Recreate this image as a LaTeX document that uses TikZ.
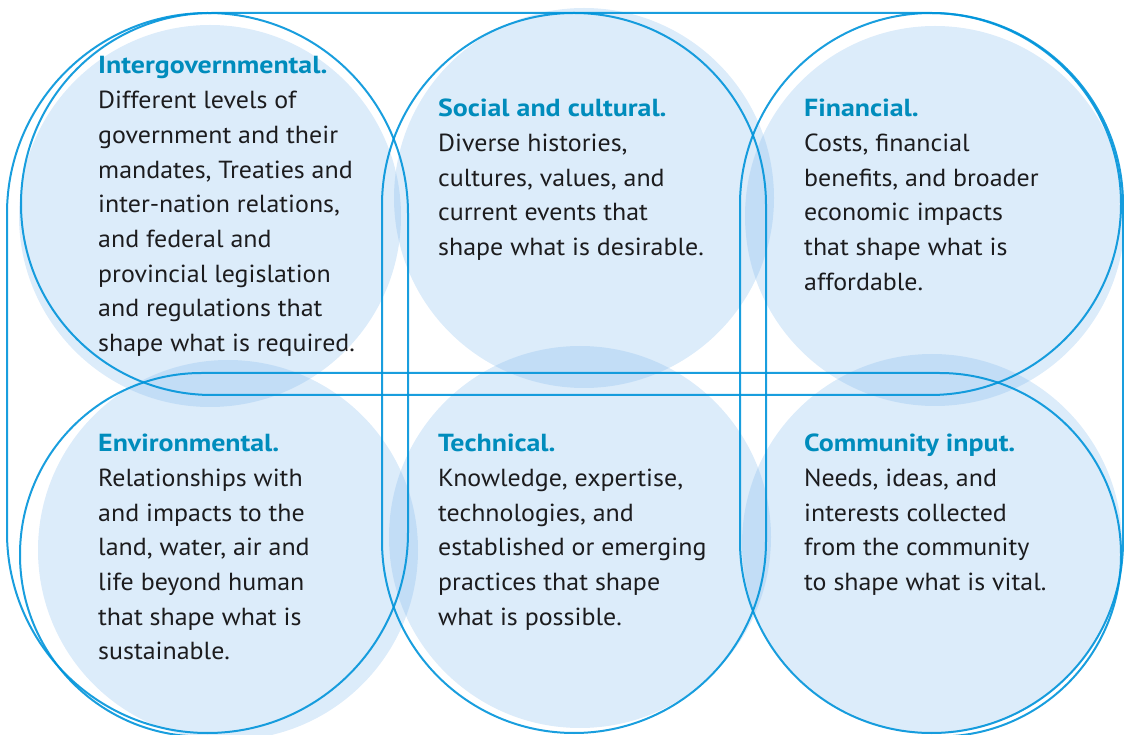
\documentclass[tikz,border=0pt]{standalone}
\usepackage{fontspec}
\setmainfont{PT Sans}[FakeStretch=1.05]
\newfontfamily\headfont{PT Sans}[FakeStretch=1.13]
\definecolor{ringblue}{RGB}{0,148,218}
\definecolor{discfill}{RGB}{120,180,235}
\definecolor{headteal}{RGB}{0,140,188}
\definecolor{bodyink}{RGB}{28,28,30}

% rounded band: lower-left x, y, upper-right x, y, corner radius
\newcommand\roundband[5]{%
  \draw[band] ({#1+#5},#2) -- ({#3-#5},#2)
    arc[start angle=-90,end angle=0,radius=#5] -- (#3,{#4-#5})
    arc[start angle=0,end angle=90,radius=#5] -- ({#1+#5},#4)
    arc[start angle=90,end angle=180,radius=#5] -- (#1,{#2+#5})
    arc[start angle=180,end angle=270,radius=#5] -- cycle;}

\tikzset{
  disc/.style={fill=discfill, fill opacity=0.26, draw=none},
  band/.style={draw=ringblue, draw opacity=0.9, line width=2pt},
  % anchored at the baseline of the last line
  blurb/.style={anchor=base west, align=left, inner sep=0pt, text=bodyink,
    font=\fontsize{24.7}{34.7}\selectfont},
}
\newcommand\heading[1]{\textcolor{headteal}{\headfont\bfseries #1}}

\begin{document}
\begin{tikzpicture}[x=1pt,y=1pt]
\useasboundingbox (0,0) rectangle (1124,734);
\clip (0,0) rectangle (1124,734);

% soft discs behind the text
\fill[disc] (210,518) circle[radius=191];
\fill[disc] (584,536) circle[radius=190];
\fill[disc] (935,518) circle[radius=190];
\fill[disc] (228,184) circle[radius=190];
\fill[disc] (580,197) circle[radius=191];
\fill[disc] (932,190) circle[radius=190];

% woven outline bands: two rows and three columns
\roundband{21}{339}{1121}{721}{191}
\roundband{20}{-2.5}{1121}{361}{181.5}
\roundband{7}{1}{408}{721}{200.5}
\roundband{382}{1}{766}{721}{192}
\roundband{740}{1}{1123}{721}{191.5}

% texts
\node[blurb] (intergov) at (98,382.4) {\heading{Intergovernmental.}\\
  Different levels of\\government and their\\mandates, Treaties and\\
  inter-nation relations,\\and federal and\\provincial legislation\\
  and regulations that\\shape what is required.};
\node[blurb] (social) at (438,478.5) {\heading{Social and cultural.}\\
  Diverse histories,\\cultures, values, and\\current events that\\
  shape what is desirable.};
\node[blurb] (financial) at (804,443.8) {\heading{Financial.}\\
  Costs, financial\\benefits, and broader\\economic impacts\\
  that shape what is\\affordable.};
\node[blurb] (environ) at (98,74.1) {\heading{Environmental.}\\
  Relationships with\\and impacts to the\\land, water, air and\\
  life beyond human\\that shape what is\\sustainable.};
\node[blurb] (technical) at (438,108.8) {\heading{Technical.}\\
  Knowledge, expertise,\\technologies, and\\established or emerging\\
  practices that shape\\what is possible.};
\node[blurb] (community) at (804,143.5) {\heading{Community input.}\\
  Needs, ideas, and\\interests collected\\from the community\\
  to shape what is vital.};
\end{tikzpicture}
\end{document}
